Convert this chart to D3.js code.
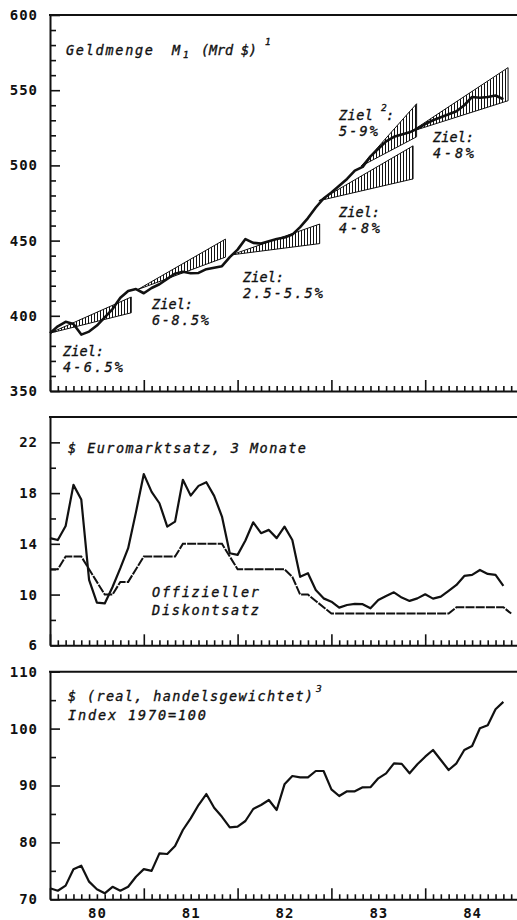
<!DOCTYPE html>
<html><head><meta charset="utf-8">
<script src="https://cdn.jsdelivr.net/npm/d3@7/dist/d3.min.js"></script>
<style>
body{margin:0;background:#fff}
svg text{font-family:"DejaVu Sans Mono",monospace;fill:#111}
.ax .domain{stroke:#111;stroke-width:2}
.ax line{stroke:#111;stroke-width:1.6}
.ax line.minor{stroke:#111;stroke-width:1.6}
.ax text{font-size:14px;letter-spacing:1px;fill:#111;font-weight:bold;font-family:"DejaVu Sans Mono",monospace}
.it{font-style:italic;font-size:13.5px;stroke:#111;stroke-width:0.35}
</style></head><body>
<svg id="c" width="517" height="920"></svg>
<script>
// ---- data (monthly, Jan 1980 = index 0) ----
const yearLabels = ["80","81","82","83","84"];
const topTicks = [350,400,450,500,550,600];
const topMinor = [360,370,380,390,410,420,430,440,460,470,480,490,510,520,530,540,560,570,580,590];
const midTicks = [6,10,14,18,22];
const midMinor = [8,12,16,20];
const botTicks = [70,80,90,100,110];
const botMinor = [75,85,95,105];

const m1Values = [388.4,393,396,394.5,387.5,389.5,393.5,399,404.5,412,
  416.5,417.8,415,418.5,421,424.5,428,429.3,428.3,428.5,
  431,432,433,439,444,451,448.5,448,449.5,451,
  452,454,459,465,472,478,482,486.5,491,496.5,
  499,506,511,516,519,520.5,522,524.5,527.5,530,
  532,534,536,540,545.5,545,545.5,546.5,544];

// target cones (month index of start / end, M1 level at base, upper and lower end)
const coneStart = [0, 11.25, 23.2, 34.4, 39.8, 46.2];
const coneEnd   = [10.4, 22.45, 34.5, 46.45, 46.9, 58.6];
const coneBase  = [388.5, 417.5, 440.5, 476.5, 499.5, 522.5];
const coneHigh  = [412.5, 451, 461, 513, 541, 565];
const coneLow   = [402, 439, 448, 491, 519, 543];

const euroRates = [14.45,14.3,15.4,18.65,17.5,11.15,9.36,9.3,10.6,12.08,
  13.66,16.5,19.5,18.1,17.2,15.36,15.75,19.05,17.8,18.57,
  18.86,17.78,16.15,13.26,13.13,14.26,15.7,14.84,15.1,14.45,
  15.36,14.3,11.4,11.68,10.36,9.7,9.44,8.97,9.18,9.26,
  9.24,8.92,9.58,9.89,10.18,9.76,9.5,9.7,10.02,9.68,
  9.84,10.3,10.76,11.47,11.55,11.94,11.63,11.55,10.68];

const discountRates = [12,12,13,13,13,12,11,10,10,11,
  11,12,13,13,13,13,13,14,14,14,
  14,14,14,13,12,12,12,12,12,12,
  12,11.4,10,10,9.5,9,8.5,8.5,8.5,8.5,
  8.5,8.5,8.5,8.5,8.5,8.5,8.5,8.5,8.5,8.5,
  8.5,8.5,9,9,9,9,9,9,9,8.5];

const dollarIndex = [71.93,71.5,72.4,75.27,75.9,73.1,71.76,71.05,72.2,71.5,
  72.2,73.97,75.3,75.0,78.08,77.96,79.37,82.18,84.23,86.57,
  88.5,86.1,84.5,82.65,82.76,83.76,85.87,86.57,87.45,85.7,
  90.2,91.67,91.44,91.44,92.55,92.55,89.33,88.15,88.98,88.98,
  89.68,89.7,91.26,92.14,93.9,93.8,92.14,93.73,95.06,96.24,
  94.48,92.72,93.9,96.24,96.94,100.05,100.6,103.4,104.7];

// ---- drawing ----
const svg = d3.select("#c");
const x = d3.scaleLinear().domain([0,60]).range([50,519]);
const yTop = d3.scaleLinear().domain([350,600]).range([391,15]);
const yMid = d3.scaleLinear().domain([6,24]).range([645.3,417]);
const yBot = d3.scaleLinear().domain([70,110]).range([899.3,671.7]);

const defs = svg.append("defs");
defs.append("pattern").attr("id","hatch").attr("patternUnits","userSpaceOnUse")
  .attr("width",3).attr("height",10)
  .append("line").attr("x1",1.5).attr("x2",1.5).attr("y1",0).attr("y2",10)
  .attr("stroke","#111").attr("stroke-width",1);

function frame(y, major, minor){
  const [y0,y1] = y.range();
  const all = major.concat(minor).sort((a,b)=>a-b);
  svg.append("g").attr("class","ax").attr("transform","translate(50,0)")
    .call(d3.axisLeft(y).tickValues(all).tickSize(-10).tickSizeOuter(0).tickPadding(12)
      .tickFormat(d => major.includes(d) ? d : ""))
    .call(a=>a.selectAll(".tick line").attr("x2", d => major.includes(d) ? 10 : 6)
      .classed("minor", d => !major.includes(d)));
  svg.append("g").attr("class","ax").attr("transform",`translate(0,${y0})`)
    .call(d3.axisBottom(x).tickValues(d3.range(0,61)).tickSize(-11).tickFormat("").tickSizeOuter(0))
    .call(a=>a.selectAll(".tick line").attr("y2", d => d % 12 === 0 ? -11 : -5)
      .classed("minor", d => d % 12 !== 0));
  svg.append("line").attr("x1",x(0)-1).attr("x2",x(60)).attr("y1",y1).attr("y2",y1)
    .attr("stroke","#111").attr("stroke-width",2);
}
frame(yTop, topTicks, topMinor);
frame(yMid, midTicks, midMinor);
frame(yBot, botTicks, botMinor);

// year labels
svg.append("g").attr("class","ax").attr("transform",`translate(0,${yBot.range()[0]})`)
  .call(d3.axisBottom(x).tickValues(yearLabels.map((d,i)=>6+12*i)).tickSize(0).tickPadding(9)
    .tickFormat((d,i)=>yearLabels[i]))
  .call(a=>a.select(".domain").remove());

// cones
coneStart.forEach((s,i)=>{
  const pts = [[x(s), yTop(coneBase[i])],[x(coneEnd[i]), yTop(coneHigh[i])],[x(coneEnd[i]), yTop(coneLow[i])]];
  svg.append("path").attr("d", d3.line()(pts)+"Z")
    .attr("fill","url(#hatch)").attr("stroke","#111").attr("stroke-width",1).attr("stroke-linejoin","miter");
});

const lineOf = y => d3.line().x((d,i)=>x(i)).y(d=>y(d));
svg.append("path").attr("d", lineOf(yTop)(m1Values)).attr("fill","none").attr("stroke","#111").attr("stroke-width",2.6).attr("stroke-linejoin","round");
svg.append("path").attr("d", lineOf(yMid)(discountRates)).attr("fill","none").attr("stroke","#111").attr("stroke-width",2).attr("stroke-dasharray","9,1.2");
svg.append("path").attr("d", lineOf(yMid)(euroRates)).attr("fill","none").attr("stroke","#111").attr("stroke-width",2.2).attr("stroke-linejoin","round");
svg.append("path").attr("d", lineOf(yBot)(dollarIndex)).attr("fill","none").attr("stroke","#111").attr("stroke-width",2.2).attr("stroke-linejoin","round");

// text labels
function t(str, px, py, len, size){
  const e = svg.append("text").attr("class","it").attr("x",px).attr("y",py).text(str);
  if(size) e.style("font-size",size+"px");
  if(len) e.attr("textLength",len).attr("lengthAdjust","spacing");
  return e;
}
t("Geldmenge",66,55,87);
t("M",172,55);
t("1",183,58,null,9.5);
t("(Mrd $)",201,55,56);
t("1",265,45,null,9.5);

t("Ziel:",63,356,41); t("4-6.5%",63,372,60);
t("Ziel:",152,309,41); t("6-8.5%",152,325,57);
t("Ziel:",243,282,41); t("2.5-5.5%",243,298,80);
t("Ziel",339,120,34); t("2",381,111,null,9.5); t(":",386,120);
t("5-9%",339,136,39);
t("Ziel:",339,217,41); t("4-8%",339,233,41);
t("Ziel:",433,142,41); t("4-8%",433,158,41);

t("$ Euromarktsatz, 3 Monate",68,453,238);
t("Offizieller",152,597,107);
t("Diskontsatz",152,615,107);

t("$ (real, handelsgewichtet)",68,701,245);
t("3",316,692,null,9.5);
t("Index 1970=100",68,720,138);
</script>
</body></html>
